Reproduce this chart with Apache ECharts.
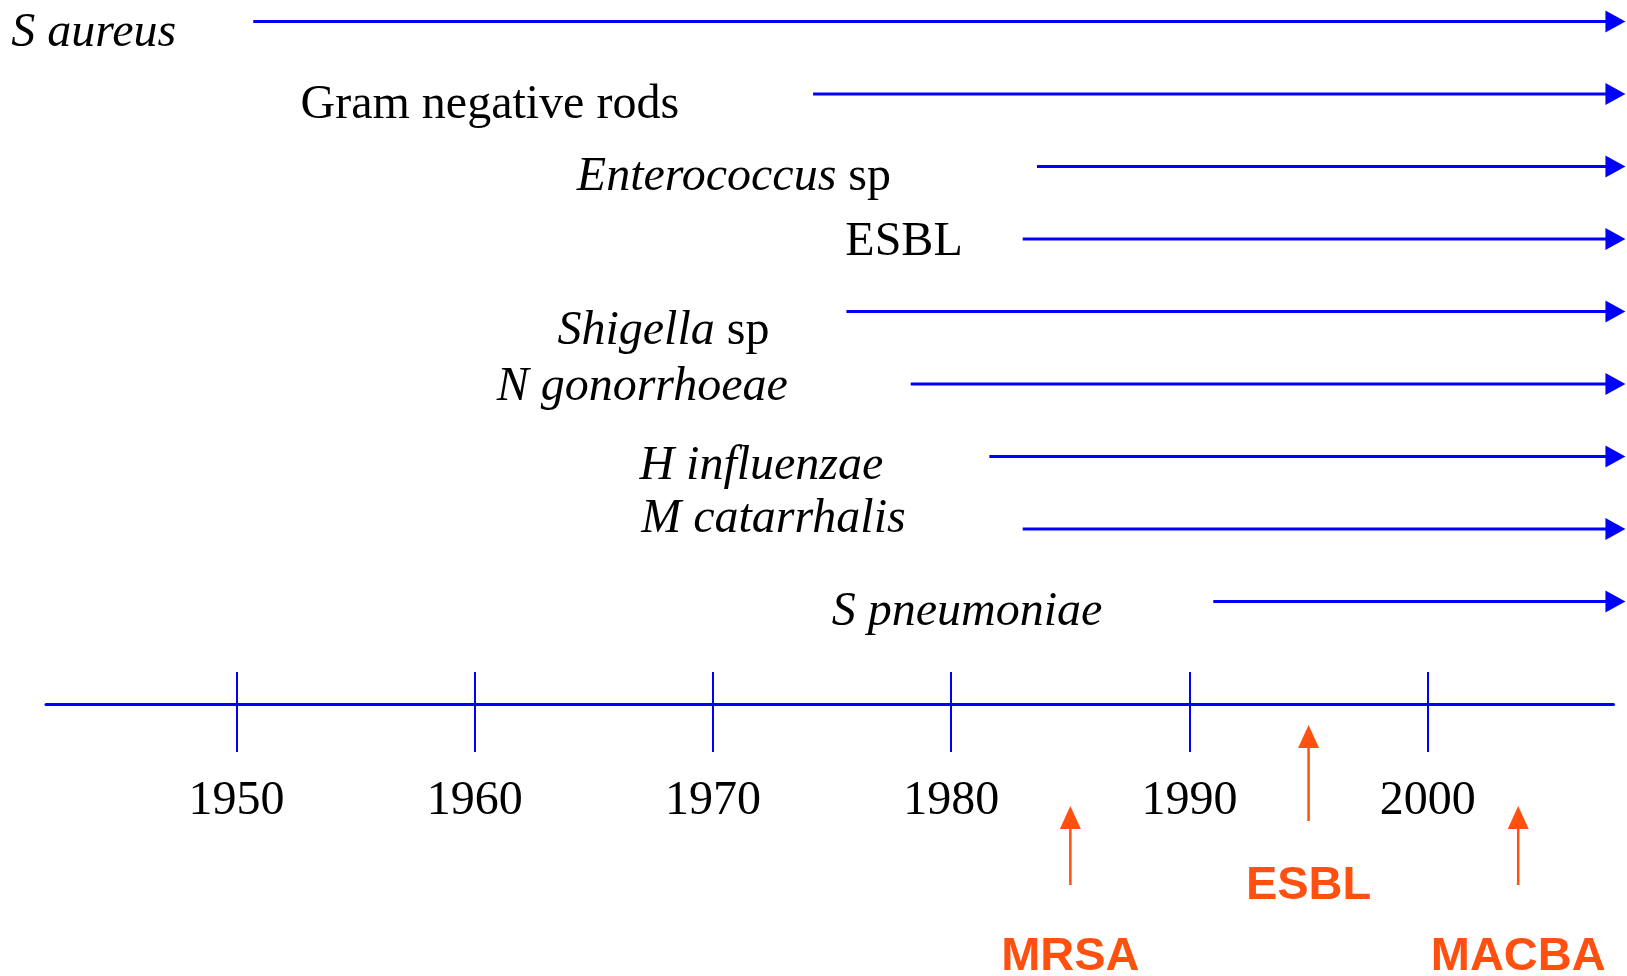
<!DOCTYPE html>
<html><head><meta charset="utf-8">
<script src="https://cdn.jsdelivr.net/npm/echarts@6/dist/echarts.min.js"></script>
<style>html,body{margin:0;padding:0;background:#fff}#c{width:1627px;height:976px}</style>
</head><body><div id="c"></div>
<script>
// ---- data ----
const organisms = ['S aureus', 'Gram negative rods', 'Enterococcus sp', 'ESBL', 'Shigella sp',
  'N gonorrhoeae', 'H influenzae', 'M catarrhalis', 'S pneumoniae'];
const resistanceStart = [1950.7, 1974.2, 1983.6, 1983.0, 1975.6, 1978.3, 1981.6, 1983.0, 1991.0];
const presentYear = 2008.3;
const tickYears = [1950, 1960, 1970, 1980, 1990, 2000];
const events = ['MRSA', 'ESBL', 'MACBA'];
const eventYears = [1985, 1995, 2003.8];

// ---- style / layout ----
const BLUE = '#0000FF', ORANGE = '#FF5010';
const SERIF = 'Liberation Serif, Times New Roman, serif';
const SANS = 'Liberation Sans, Arial, sans-serif';
const labelGap = [77, 134, 146, 60, 77, 123, 106, 117, 111];
const labelNudge = [12, 11, 11, 3, 20, 3, 10, -10, 11];
const roman = ['Gram negative rods', 'ESBL'];
function fmt(name) {
  if (roman.indexOf(name) >= 0) return '{r|' + name + '}';
  if (/ sp$/.test(name)) return '{i|' + name.slice(0, -3) + '}{r| sp}';
  return '{i|' + name + '}';
}
const X_MIN = 1942, X_MAX = 2007.8;
const GL = 46, GR = 13.5;

const chart = echarts.init(document.getElementById('c'), null, {renderer: 'canvas'});
chart.setOption({
  animation: false,
  backgroundColor: '#ffffff',
  grid: [
    {left: GL, right: GR, top: 21.5, height: 580},
    {left: GL, right: GR, top: 704, height: 250}
  ],
  xAxis: [
    {gridIndex: 0, type: 'value', min: X_MIN, max: X_MAX, show: false},
    {gridIndex: 1, type: 'value', min: X_MIN, max: X_MAX, position: 'top',
      axisLine: {show: true, onZero: false, lineStyle: {color: BLUE, width: 3}},
      axisTick: {show: true, inside: true, length: 48, customValues: tickYears, lineStyle: {color: BLUE, width: 2}},
      axisLabel: {show: true, inside: true, customValues: tickYears, margin: 97, verticalAlign: 'middle',
        formatter: v => String(v), color: '#000', fontFamily: SERIF, fontSize: 48},
      splitLine: {show: false}},
    {gridIndex: 1, type: 'value', min: X_MIN, max: X_MAX, position: 'top',
      axisLine: {show: false, onZero: false},
      axisTick: {show: true, inside: false, length: 32, customValues: tickYears, lineStyle: {color: BLUE, width: 2}},
      axisLabel: {show: false}, splitLine: {show: false}}
  ],
  yAxis: [
    {gridIndex: 0, type: 'category', data: organisms, inverse: true, boundaryGap: false, show: false},
    {gridIndex: 1, type: 'value', min: 0, max: 1, show: false}
  ],
  series: [
    {
      type: 'custom', xAxisIndex: 0, yAxisIndex: 0, clip: false, silent: true,
      data: organisms.map((n, i) => [resistanceStart[i], i, presentYear]),
      renderItem: function (params, api) {
        const i = params.dataIndex;
        const s = api.coord([api.value(0), api.value(1)]);
        const e = api.coord([api.value(2), api.value(1)]);
        const head = 20, half = 11;
        return {type: 'group', children: [
          {type: 'line', shape: {x1: s[0], y1: s[1], x2: e[0] - head + 2, y2: s[1]},
            style: {stroke: BLUE, lineWidth: 3}},
          {type: 'polygon', shape: {points: [[e[0] - head, s[1] - half], [e[0], s[1]], [e[0] - head, s[1] + half]]},
            style: {fill: BLUE}},
          {type: 'text', style: {
            text: fmt(organisms[i]), x: s[0] - labelGap[i], y: s[1] + labelNudge[i],
            align: 'right', verticalAlign: 'middle', fill: '#000',
            fontFamily: SERIF, fontSize: 48,
            rich: {
              i: {fontStyle: 'italic', fontFamily: SERIF, fontSize: 48, fill: '#000', color: '#000'},
              r: {fontStyle: 'normal', fontFamily: SERIF, fontSize: 48, fill: '#000', color: '#000'}
            }
          }}
        ]};
      }
    },
    {
      type: 'custom', xAxisIndex: 1, yAxisIndex: 1, clip: false, silent: true,
      data: eventYears.map(y => [y, 0]),
      renderItem: function (params, api) {
        const i = params.dataIndex, lane = i % 2;
        const x = api.coord([api.value(0), 0])[0];
        const top = params.coordSys.y;
        const tip = top + (lane ? 21 : 102);
        const bottom = top + (lane ? 117 : 181);
        const labelY = bottom + (lane ? 65 : 72);
        return {type: 'group', children: [
          {type: 'line', shape: {x1: x, y1: tip + 20, x2: x, y2: bottom}, style: {stroke: ORANGE, lineWidth: 2.5}},
          {type: 'polygon', shape: {points: [[x - 10.5, tip + 23], [x, tip], [x + 10.5, tip + 23]]}, style: {fill: ORANGE}},
          {type: 'text', style: {text: events[i], x: x, y: labelY, fill: ORANGE, fontFamily: SANS,
            fontWeight: 'bold', fontSize: 47, align: 'center', verticalAlign: 'middle'}}
        ]};
      }
    }
  ]
});
</script>
</body></html>
